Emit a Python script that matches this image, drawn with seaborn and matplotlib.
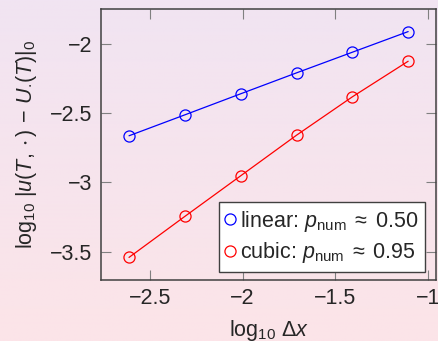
"""Convergence plot: log error vs log grid spacing."""
import matplotlib
matplotlib.use("Agg")
import matplotlib.pyplot as plt
import numpy as np
import pandas as pd
import seaborn as sns
from matplotlib.lines import Line2D

# data
log_dx = [-2.612, -2.311, -2.010, -1.709, -1.408, -1.107]
err_linear = [-2.663, -2.512, -2.360, -2.209, -2.060, -1.911]
err_cubic = [-3.541, -3.245, -2.952, -2.659, -2.382, -2.125]
series_names = ["linear", "cubic"]
series_colors = ["#0000ff", "#ff0000"]
rate_labels = ["0.50", "0.95"]
xticks = [-2.5, -2.0, -1.5, -1.0]
yticks = [-3.5, -3.0, -2.5, -2.0]

sns.set_theme(style="ticks")
plt.rcParams["font.family"] = ["Liberation Sans", "DejaVu Sans"]
plt.rcParams["mathtext.fontset"] = "custom"
plt.rcParams["mathtext.rm"] = "Liberation Sans"
plt.rcParams["mathtext.it"] = "Liberation Sans:italic"
plt.rcParams["mathtext.fallback"] = "stixsans"
plt.rcParams["axes.unicode_minus"] = True

FS = 15.5

df = pd.DataFrame({
    "log_dx": log_dx * 2,
    "err": err_linear + err_cubic,
    "scheme": ["linear"] * len(log_dx) + ["cubic"] * len(log_dx),
})

fig = plt.figure(figsize=(4.38, 3.41), dpi=100)

# vertical lavender -> pink gradient background
bg = fig.add_axes([0, 0, 1, 1], zorder=-10)
grad = np.linspace(0, 1, 256)[:, None]
top = np.array([241, 228, 242]) / 255
bottom = np.array([252, 228, 232]) / 255
img = top[None, None, :] * (1 - grad[..., None]) + bottom[None, None, :] * grad[..., None]
bg.imshow(np.repeat(img, 2, axis=1), aspect="auto", extent=[0, 1, 0, 1])
bg.axis("off")
fig.patch.set_facecolor(bottom)

ax = fig.add_axes([0.2306, 0.1789, 0.7648, 0.7947])
ax.set_facecolor("none")

for name, color in zip(series_names, series_colors):
    sub = df[df["scheme"] == name]
    sns.lineplot(data=sub, x="log_dx", y="err", color=color, lw=0.9,
                 marker="o", ms=8, mfc="none", mec=color, mew=0.9, ax=ax)

ax.set_xlim(-2.763, -0.957)
ax.set_ylim(-3.704, -1.748)
ax.set_xticks(xticks)
ax.set_yticks(yticks)
ax.set_xticklabels(["\u22122.5", "\u22122", "\u22121.5", "\u22121"])
ax.set_yticklabels(["\u22123.5", "\u22123", "\u22122.5", "\u22122"])
ax.tick_params(direction="in", length=7.5, width=0.8, color="#808080",
               top=True, right=True, labelsize=FS, pad=6)
for sp in ax.spines.values():
    sp.set_color("#404040")
    sp.set_linewidth(1.1)

ax.set_xlabel(r"$\log_{10}\,\Delta x$", fontsize=FS, labelpad=6)
ax.set_ylabel(r"$\log_{10}\,|u(T,\cdot)\,-\,U_{\cdot}(T)|_0$", fontsize=FS, labelpad=8)

handles = [Line2D([], [], ls="none", marker="o", ms=8, mfc="none", mec=c, mew=0.9)
           for c in series_colors]
labels = [rf"{n}: $p_{{\mathrm{{num}}}}\;\approx\;{r}$" for n, r in zip(series_names, rate_labels)]
leg = ax.legend(handles, labels, loc="lower right", bbox_to_anchor=(0.967, 0.03),
                fontsize=FS, frameon=True, fancybox=False, handlelength=0.5,
                handletextpad=0.2, borderpad=0.3, labelspacing=0.3, borderaxespad=0)
leg.get_frame().set_edgecolor("#404040")
leg.get_frame().set_linewidth(1.0)
leg.get_frame().set_facecolor("white")
leg.get_frame().set_alpha(1)

fig.savefig("out.png", dpi=100)
